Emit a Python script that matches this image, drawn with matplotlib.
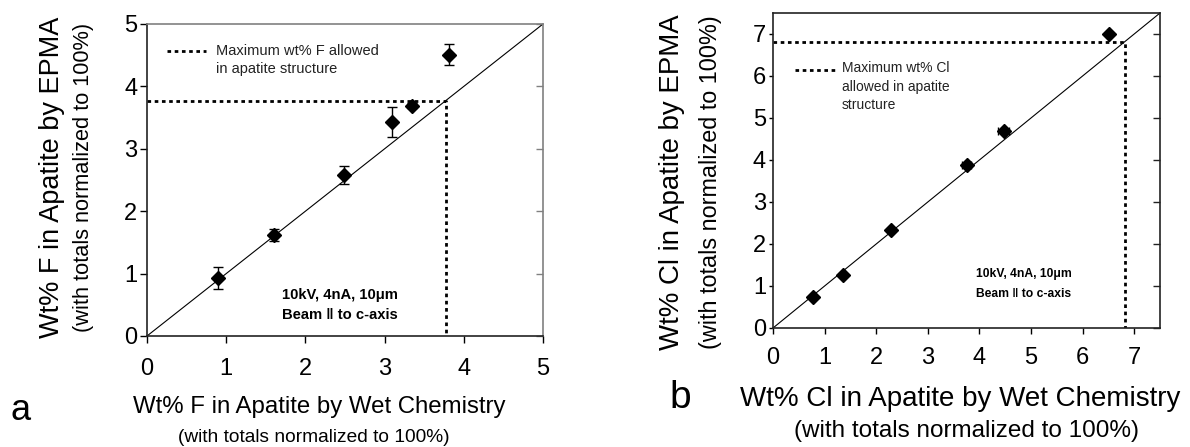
import matplotlib
matplotlib.use("Agg")
import matplotlib.pyplot as plt
import numpy as np

plt.rcParams['font.family'] = ['Liberation Sans', 'DejaVu Sans']

# Panel a: F
f_wet = [0.90, 1.60, 2.49, 3.09, 3.34, 3.81]
f_epma = [0.93, 1.62, 2.58, 3.43, 3.69, 4.51]
f_err = [0.17, 0.10, 0.15, 0.24, 0.04, 0.17]
f_max = 3.77

# Panel b: Cl
cl_wet = [0.77, 1.35, 2.29, 3.75, 4.47, 6.52]
cl_epma = [0.75, 1.27, 2.33, 3.87, 4.70, 6.99]
cl_xerr = [0.0, 0.0, 0.0, 0.08, 0.10, 0.0]
cl_max = 6.82

W, H = 1190, 447
fig = plt.figure(figsize=(W / 100, H / 100), dpi=100)

def ax_rect(l, r, t, b):
    return [l / W, 1 - b / H, (r - l) / W, (b - t) / H]

axa = fig.add_axes(ax_rect(147, 543, 24, 336))
axb = fig.add_axes(ax_rect(773, 1160, 13, 328))

def style(ax, lim, ticks, right_col, ylen, xlen, xpad):
    ax.set_xlim(0, lim)
    ax.set_ylim(0, lim)
    ax.set_xticks(ticks)
    ax.set_yticks(ticks)
    ax.tick_params(axis='x', direction='out', length=xlen, width=1, labelsize=17, pad=xpad, top=False)
    ax.tick_params(axis='y', direction='out', length=ylen, width=1, labelsize=17, pad=2,
                   right=False)
    for s in ax.spines.values():
        s.set_linewidth(1.2)
        s.set_color('#222222')
    ax.spines['top'].set_color(right_col)
    ax.spines['right'].set_color(right_col)
    # inward ticks on right spine
    sec = ax.secondary_yaxis('right')
    sec.set_yticks(ticks)
    sec.tick_params(direction='in', length=5, width=1, labelright=False, color=right_col)
    sec.spines['right'].set_visible(False)

style(axa, 5, [0, 1, 2, 3, 4, 5], '#808080', 5, 5, 10.5)
style(axb, 7.5, [0, 1, 2, 3, 4, 5, 6, 7], '#222222', 3, 4, 10)

dot = (0, (1.3, 1.3))

# Panel a
axa.plot([0, 5], [0, 5], color='black', lw=0.8)
axa.plot([0, f_max, f_max], [f_max, f_max, 0], color='black', lw=2, linestyle=dot)
axa.errorbar(f_wet, f_epma, yerr=f_err, fmt='D', color='black', ms=7,
             capsize=3.5, elinewidth=1, capthick=1)
axa.plot([0.25, 0.75], [4.57, 4.57], color='black', lw=2, linestyle=dot)
axa.text(0.87, 4.42, 'Maximum wt% F allowed\nin apatite structure', fontsize=10.5,
         va='center', ha='left', color='#222222', linespacing=1.4)
axa.text(1.71, 0.50, '10kV, 4nA, 10\u03bcm\nBeam \u2016 to c-axis', fontsize=10.6,
         fontweight='bold', va='center', ha='left', linespacing=1.5)

# Panel b
axb.plot([0, 7.5], [0, 7.5], color='black', lw=0.8)
axb.plot([0, cl_max, cl_max], [cl_max, cl_max, 0], color='black', lw=2, linestyle=dot)
axb.errorbar(cl_wet, cl_epma, xerr=cl_xerr, fmt='D', color='black', ms=7,
             capsize=3, elinewidth=1, capthick=1)
axb.plot([0.43, 1.23], [6.15, 6.15], color='black', lw=2, linestyle=dot)
axb.text(1.33, 5.75, 'Maximum wt% Cl\nallowed in apatite\nstructure', fontsize=10,
         va='center', ha='left', color='#222222', linespacing=1.45)
axb.text(3.94, 1.05, '10kV, 4nA, 10\u03bcm\nBeam \u2016 to c-axis', fontsize=8.7,
         fontweight='bold', va='center', ha='left', linespacing=1.85)

def ftext(x, y, s, **kw):
    fig.text(x / W, 1 - y / H, s, **kw)

# Axis labels panel a
ftext(52, 177, 'Wt% F in Apatite by EPMA', rotation=90, fontsize=19.5, ha='center', va='center')
ftext(84, 177, '(with totals normalized to 100%)', rotation=90, fontsize=15.7, ha='center', va='center')
ftext(319, 407, 'Wt% F in Apatite by Wet Chemistry', fontsize=17.3, ha='center', va='center')
ftext(314, 437, '(with totals normalized to 100%)', fontsize=13.8, ha='center', va='center')
ftext(21, 420, 'a', fontsize=26, ha='center', va='baseline')

# Axis labels panel b
ftext(672, 182, 'Wt% Cl in Apatite by EPMA', rotation=90, fontsize=19.9, ha='center', va='center')
ftext(711, 182, '(with totals normalized to 100%)', rotation=90, fontsize=16.8, ha='center', va='center')
ftext(960, 399, 'Wt% Cl in Apatite by Wet Chemistry', fontsize=20, ha='center', va='center')
ftext(966, 431, '(with totals normalized to 100%)', fontsize=17.5, ha='center', va='center')
ftext(680, 408, 'b', fontsize=28, ha='center', va='baseline')

fig.savefig('out.png', dpi=100)
